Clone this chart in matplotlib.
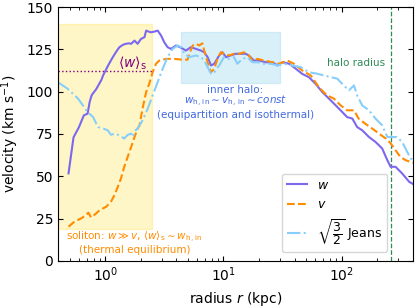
import matplotlib

matplotlib.use("Agg")
import matplotlib.pyplot as plt
from matplotlib.patches import Rectangle

# radius (kpc) and velocities (km/s)
r_w = [0.49, 0.54, 0.60, 0.66, 0.71, 0.74, 0.77, 0.84, 0.93, 0.96,
       1.05, 1.16, 1.25, 1.32, 1.42, 1.5, 1.58, 1.66, 1.77, 1.88,
       2.01, 2.15, 2.22, 2.33, 2.44, 2.6, 2.78, 2.97, 3.16, 3.37,
       3.6, 3.97, 4.38, 4.82, 5.3, 5.85, 6.45, 6.88, 7.35, 7.85,
       8.37, 9.2, 9.8, 10.5, 11.5, 12.7, 14.0, 15.4, 16.4, 18.1,
       20, 22.8, 26, 28.6, 31.6, 36, 41, 46.4, 52.7, 60,
       68.5, 78, 89, 101, 111, 123, 135, 149, 170, 193,
       220, 243, 259, 285, 324, 372, 400]
w = [51.7, 73, 79, 86, 87, 94, 98, 101.5, 107, 109.6,
     115, 120.4, 124, 126.3, 127.8, 128.3, 128.6, 128.3, 130.2, 128.3,
     131.2, 132.2, 136.1, 135.5, 135.1, 135.5, 136.1, 133.2, 129.2, 126.3,
     125.3, 127.3, 126, 124.3, 126.3, 125.3, 124.3, 123.3, 120.4, 115.5,
     116.5, 121.4, 123.3, 120.4, 121.4, 122.4, 122.4, 122.4, 121.4, 118.4,
     118.4, 117.4, 117.4, 115.5, 117.4, 116.5, 113.5, 110.5, 108.6, 104.7,
     99.8, 95.9, 91.9, 88, 85, 84.1, 79.1, 77.2, 73.2, 70.3,
     66.4, 59.5, 55.6, 55.6, 51.7, 46.7, 45.5]

r_v = [0.49, 0.55, 0.63, 0.69, 0.72, 0.76, 0.84, 0.9, 1.02, 1.12,
       1.2, 1.28, 1.36, 1.45, 1.55, 1.66, 1.77, 1.88, 1.95, 2.07,
       2.22, 2.36, 2.52, 2.69, 2.87, 3.27, 3.84, 4.5, 4.97, 5.15,
       5.5, 5.85, 6.25, 6.64, 6.88, 7.35, 7.85, 8.37, 8.9, 9.5,
       10.1, 11.2, 12.3, 13.6, 14.9, 16.4, 17.6, 19.4, 22.1, 26,
       29.5, 34.7, 39.4, 46.4, 54.7, 64, 75, 86, 98, 111,
       127, 139, 158, 181, 207, 236, 260, 285, 313, 347,
       382, 400]
v = [20.2, 23.2, 25.2, 27.1, 28.5, 25.7, 28.1, 30, 32, 35,
     38.9, 43.8, 48.7, 55.6, 61.5, 67.4, 73.2, 78.2, 80, 90,
     99.8, 104.7, 111.5, 116.5, 118.4, 119.4, 119.4, 118.9, 118.9, 122.4,
     127.3, 128.3, 127.3, 128.6, 124.3, 117.4, 111.5, 113.5, 119.4, 123.3,
     122.4, 121.4, 122.4, 122.4, 123.3, 121.4, 118.4, 119.4, 118.4, 117.4,
     116.5, 118.4, 116.5, 112.5, 109.6, 102.7, 97.8, 95.9, 91.9, 89,
     89, 84.1, 81.1, 78.2, 75.2, 72.3, 69.4, 65.4, 61.5, 59.5,
     58.5, 58]

r_j = [0.4, 0.48, 0.59, 0.71, 0.79, 0.87, 0.96, 1.05, 1.12, 1.2,
       1.32, 1.45, 1.55, 1.66, 1.71, 1.8, 1.88, 1.95, 2.07, 2.29,
       2.52, 2.78, 3.06, 3.37, 3.72, 4.1, 4.4, 4.66, 5.15, 5.85,
       6.45, 6.88, 7.35, 7.85, 8.37, 9.2, 10.1, 11.2, 12.3, 13.1,
       14.5, 15.9, 17.6, 19.4, 22.1, 25.2, 28.6, 32.6, 38.2, 45,
       52.7, 62.1, 70.6, 80.8, 91.7, 104, 115, 127, 135, 149,
       170, 193, 220, 243, 267, 292, 324, 358, 382, 400]
jeans = [105.5, 101.8, 95.9, 88, 85, 79.1, 78.2, 77.2, 74.5, 75.2,
         74.2, 72.3, 74.5, 75.2, 73.2, 77, 78.2, 80, 83, 90,
         97.8, 105.7, 113.5, 120.4, 125.3, 127.3, 126.3, 122.4, 120.4, 121.4,
         120.4, 118.4, 114.5, 110.6, 111.5, 115.5, 120.4, 119.4, 120.4, 116.5,
         119.4, 120.4, 117.4, 117.4, 116.5, 116.5, 115.5, 116.5, 115.5, 114.5,
         111.5, 110.6, 109.6, 108.6, 107.7, 103.7, 100.8, 103.7, 97.8, 91.9,
         89, 84.1, 80.1, 73.2, 73.2, 73.2, 70.3, 64.4, 60.5, 60]

w_soliton = 112      # <w>_s
r_halo = 262         # halo radius (kpc)
soliton_box = (0.4, 2.5, 19, 140)   # r0, r1, v0, v1
inner_box = (4.4, 30, 105, 135)

fig = plt.figure(figsize=(4.15, 3.08), dpi=100)
ax = fig.add_axes([0.14, 0.153, 0.855, 0.824])

r0, r1, y0, y1 = soliton_box
ax.add_patch(Rectangle((r0, y0), r1 - r0, y1 - y0, facecolor="gold",
                       edgecolor="gold", alpha=0.22, lw=1, zorder=0))
r0, r1, y0, y1 = inner_box
ax.add_patch(Rectangle((r0, y0), r1 - r0, y1 - y0, facecolor="skyblue",
                       edgecolor="skyblue", alpha=0.3, lw=1, zorder=0))

ax.plot([soliton_box[0], soliton_box[1]], [w_soliton, w_soliton], ":",
        color="purple", lw=1)
ax.axvline(r_halo, color="seagreen", ls="--", lw=0.9)

ax.plot(r_w, w, "-", color="mediumslateblue", lw=1.5, label=r"$w$")
ax.plot(r_v, v, "--", color="darkorange", lw=1.5, label=r"$v$")
ax.plot(r_j, jeans, "-.", color="lightskyblue", lw=1.5,
        label=r"$\sqrt{\dfrac{3}{2}}$ Jeans")

fs = 7.5
ax.text(1.7, 117, r"$\langle w \rangle_\mathrm{s}$", color="purple",
        fontsize=10, ha="center", va="center")
ax.text(235, 117, "halo radius", color="seagreen", fontsize=fs,
        ha="right", va="center")
ax.text(12.6, 101, "inner halo:", color="royalblue", fontsize=fs,
        ha="center", va="center")
ax.text(12.6, 94, r"$w_\mathrm{h,\,in} \sim v_\mathrm{h,\,in} \sim const$",
        color="royalblue", fontsize=fs, ha="center", va="center")
ax.text(12.6, 86, "(equipartition and isothermal)", color="royalblue",
        fontsize=fs, ha="center", va="center")
ax.text(1.77, 14, r"soliton: $w \gg v$, $\langle w \rangle_\mathrm{s} \sim w_\mathrm{h,\,in}$",
        color="darkorange", fontsize=fs, ha="center", va="center")
ax.text(1.77, 6.5, "(thermal equilibrium)", color="darkorange", fontsize=fs,
        ha="center", va="center")

ax.set_xscale("log")
ax.set_xlim(0.4, 400)
ax.set_ylim(0, 150)
ax.set_yticks([0, 25, 50, 75, 100, 125, 150])
ax.tick_params(which="both", direction="in", top=True, right=True)
ax.set_xlabel(r"radius $r$ (kpc)")
ax.set_ylabel(r"velocity (km s$^{-1}$)")

ax.legend(loc="lower right", bbox_to_anchor=(0.927, 0.035), borderaxespad=0,
          fontsize=9, handlelength=1.6)

fig.savefig("out.png", dpi=100)
